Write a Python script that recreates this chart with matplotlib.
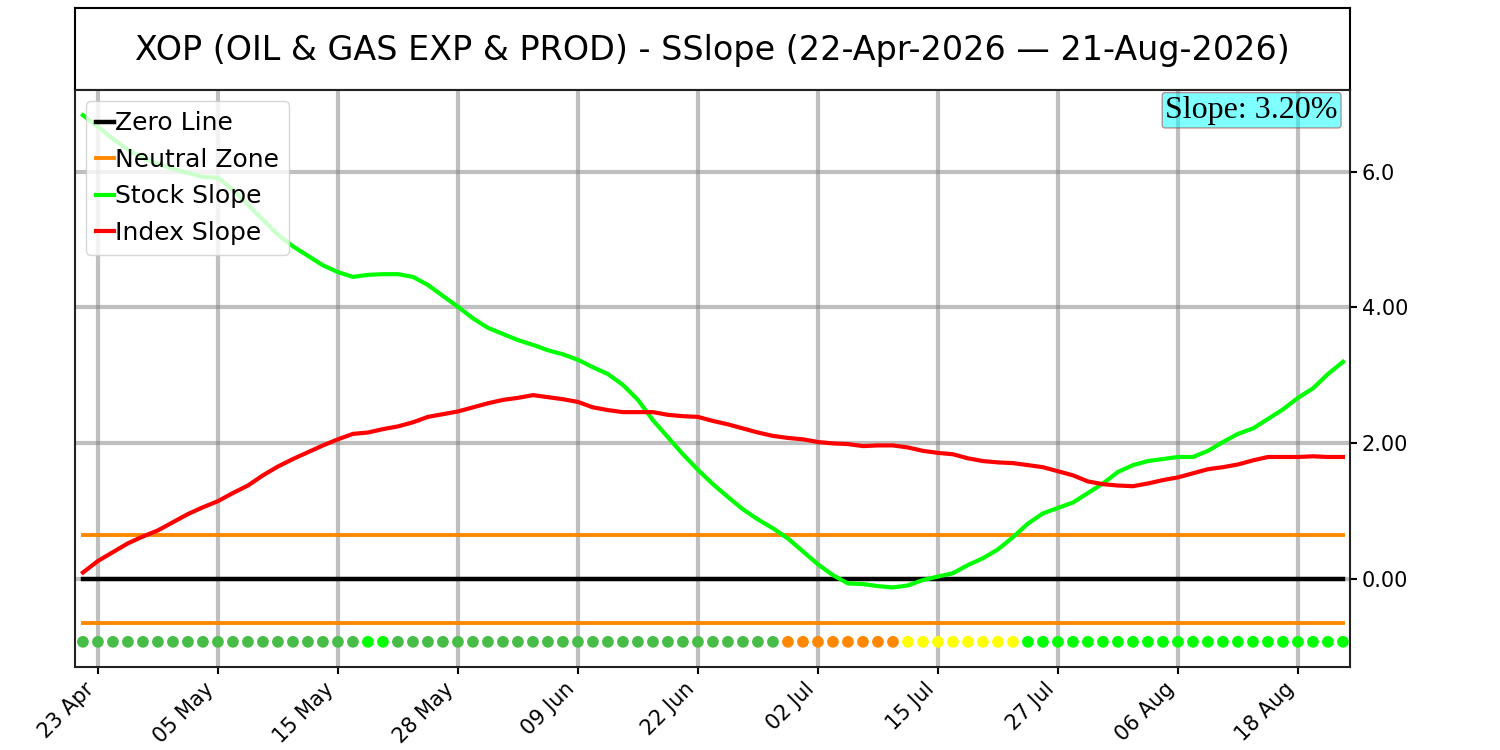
import matplotlib
matplotlib.use("Agg")
import matplotlib.pyplot as plt
import numpy as np
import pandas as pd

# trading days 22-Apr-2026 .. 21-Aug-2026 (US market holidays removed)
holidays = ["2026-05-25", "2026-06-19", "2026-07-03"]
dates = pd.bdate_range("2026-04-22", "2026-08-21", freq="C", holidays=holidays)

stock_slope = [6.83, 6.66, 6.48, 6.32, 6.20, 6.11, 6.04, 5.98, 5.92, 5.91,
               5.73, 5.51, 5.29, 5.07, 4.90, 4.76, 4.62, 4.52, 4.45, 4.48,
               4.49, 4.49, 4.45, 4.33, 4.17, 4.01, 3.84, 3.70, 3.61, 3.52,
               3.45, 3.37, 3.31, 3.23, 3.12, 3.02, 2.86, 2.64, 2.34, 2.09,
               1.84, 1.61, 1.40, 1.21, 1.03, 0.88, 0.75, 0.60, 0.41, 0.22,
               0.06, -0.06, -0.07, -0.10, -0.12, -0.09, -0.01, 0.04, 0.09, 0.21,
               0.31, 0.44, 0.62, 0.82, 0.97, 1.05, 1.13, 1.27, 1.41, 1.58,
               1.68, 1.74, 1.77, 1.80, 1.80, 1.89, 2.02, 2.14, 2.22, 2.36,
               2.50, 2.67, 2.81, 3.02, 3.20]

index_slope = [0.10, 0.27, 0.40, 0.53, 0.63, 0.72, 0.84, 0.96, 1.06, 1.15,
               1.27, 1.38, 1.53, 1.66, 1.77, 1.87, 1.97, 2.06, 2.14, 2.16,
               2.21, 2.25, 2.31, 2.39, 2.43, 2.47, 2.53, 2.59, 2.64, 2.67,
               2.71, 2.68, 2.65, 2.61, 2.53, 2.49, 2.46, 2.46, 2.46, 2.42,
               2.40, 2.39, 2.33, 2.28, 2.22, 2.16, 2.11, 2.08, 2.06, 2.02,
               2.00, 1.99, 1.96, 1.97, 1.97, 1.94, 1.89, 1.86, 1.84, 1.78,
               1.74, 1.72, 1.71, 1.68, 1.65, 1.59, 1.53, 1.44, 1.40, 1.38,
               1.37, 1.41, 1.46, 1.50, 1.56, 1.62, 1.65, 1.69, 1.75, 1.80,
               1.80, 1.80, 1.81, 1.80, 1.80]

# daily status dots (colour runs)
status_runs = [("#47bc47", 19), ("#00ff00", 2), ("#47bc47", 26),
               ("#ff8800", 8), ("#ffff00", 8), ("#00ff00", 22)]
neutral = 0.65
dot_level = -0.92
slope_text = "Slope: 3.20%"
title = "XOP (OIL & GAS EXP & PROD) - SSlope (22-Apr-2026 \u2014 21-Aug-2026)"

x = np.arange(len(dates))
dot_colors = []
for c, n in status_runs:
    dot_colors += [c] * n

fig = plt.figure(figsize=(15, 7.5), dpi=100)

# title box
tax = fig.add_axes([0.05, 0.88, 0.85, 0.1087])
tax.set_xticks([])
tax.set_yticks([])
for s in tax.spines.values():
    s.set_linewidth(1.5)
tax.text(0.5, 0.48, title, ha="center", va="center", fontsize=24,
         transform=tax.transAxes)

ax = fig.add_axes([0.05, 0.1107, 0.85, 0.7693])

ax.plot(x, np.zeros(len(x)), color="black", lw=3.2, label="Zero Line")
ax.plot(x, np.full(len(x), neutral), color="#ff8800", lw=2.8, label="Neutral Zone")
ax.plot(x, np.full(len(x), -neutral), color="#ff8800", lw=2.8)
ax.plot(x, stock_slope, color="#00ff00", lw=3, label="Stock Slope")
ax.plot(x, index_slope, color="#ff0000", lw=3, label="Index Slope")
ax.scatter(x, np.full(len(x), dot_level), c=dot_colors, s=55, zorder=3)

ax.set_xlim(-0.53, 84.47)
ax.set_ylim(-1.29, 7.2)

tick_idx = x[1::8]
ax.set_xticks(tick_idx)
ax.set_xticklabels([dates[i].strftime("%d %b") for i in tick_idx],
                   rotation=45, ha="right", fontsize=15)
ax.set_yticks([0, 2, 4, 6])
ax.set_yticklabels(["0.00", "2.00", "4.00", "6.0"], fontsize=15)
ax.yaxis.tick_right()
ax.tick_params(length=5, width=1.5)
ax.grid(True, color="grey", alpha=0.5, lw=3)
ax.set_axisbelow(True)
for s in ax.spines.values():
    s.set_linewidth(1.5)
    s.set_color("#222222")

ax.legend(loc="upper left", fontsize=18, handlelength=0.7, handletextpad=0.05,
          borderpad=0.4, labelspacing=0.5, borderaxespad=0.45)

ax.text(0.9905, 0.99, slope_text, transform=ax.transAxes, ha="right", va="top",
        fontsize=23, family="Liberation Serif",
        bbox=dict(boxstyle="round,pad=0.1", facecolor="cyan", alpha=0.5,
                  edgecolor="brown"))

fig.savefig("out.png", dpi=100)
